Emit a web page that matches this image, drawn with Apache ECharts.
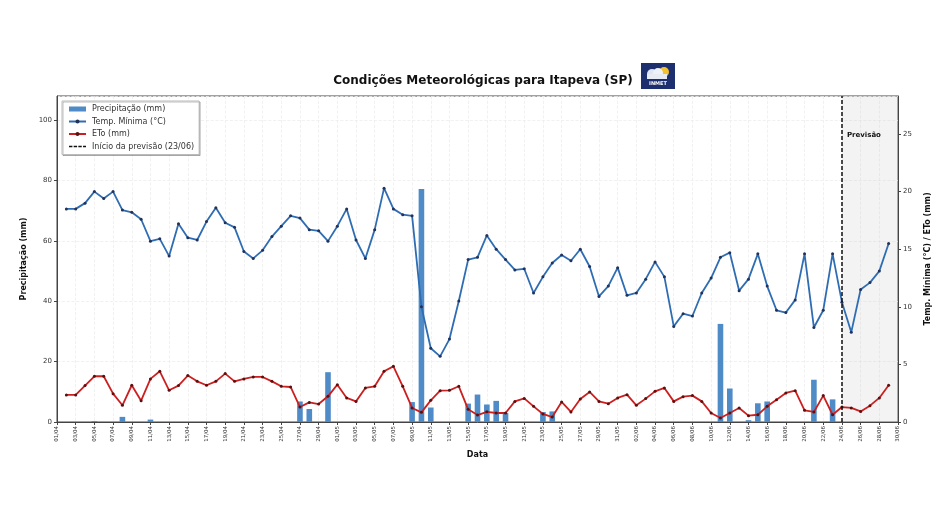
<!DOCTYPE html>
<html>
<head>
<meta charset="utf-8">
<script src="https://cdn.jsdelivr.net/npm/echarts@6/dist/echarts.min.js"></script>
<style>
  html, body { margin: 0; padding: 0; background: #fff; }
  #grafico { width: 940px; height: 530px; }
</style>
</head>
<body>
<div id="grafico"></div>
<script>
// eixo x: 01/04 a 30/06
const eixoDatas = [
  '01/04','02/04','03/04','04/04','05/04','06/04','07/04','08/04','09/04','10/04',
  '11/04','12/04','13/04','14/04','15/04','16/04','17/04','18/04','19/04','20/04',
  '21/04','22/04','23/04','24/04','25/04','26/04','27/04','28/04','29/04','30/04',
  '01/05','02/05','03/05','04/05','05/05','06/05','07/05','08/05','09/05','10/05',
  '11/05','12/05','13/05','14/05','15/05','16/05','17/05','18/05','19/05','20/05',
  '21/05','22/05','23/05','24/05','25/05','26/05','27/05','28/05','29/05','30/05','31/05',
  '01/06','02/06','03/06','04/06','05/06','06/06','07/06','08/06','09/06','10/06',
  '11/06','12/06','13/06','14/06','15/06','16/06','17/06','18/06','19/06','20/06',
  '21/06','22/06','23/06','24/06','25/06','26/06','27/06','28/06','29/06','30/06'
]

// dias com dados (02/04 a 29/06)
const datasSerie = eixoDatas.slice(1, 90)

const temperatura = [
  18.5, 18.5, 19.0, 20.0, 19.4, 20.0, 18.4, 18.2, 17.6, 15.7,
  15.9, 14.4, 17.2, 16.0, 15.8, 17.4, 18.6, 17.3, 16.9, 14.8,
  14.2, 14.9, 16.1, 17.0, 17.9, 17.7, 16.7, 16.6, 15.7, 17.0,
  18.5, 15.8, 14.2, 16.7, 20.3, 18.5, 18.0, 17.9, 10.0, 6.4,
  5.7, 7.2, 10.5, 14.1, 14.3, 16.2, 15.0, 14.1, 13.2, 13.3,
  11.2, 12.6, 13.8, 14.5, 14.0, 15.0, 13.5, 10.9, 11.8, 13.4,
  11.0, 11.2, 12.4, 13.9, 12.6, 8.3, 9.4, 9.2, 11.2, 12.5,
  14.3, 14.7, 11.4, 12.4, 14.6, 11.8, 9.7, 9.5, 10.6, 14.6,
  8.2, 9.7, 14.6, 10.4, 7.8, 11.5, 12.1, 13.1, 15.5
]

const eto = [
  2.35, 2.35, 3.16, 3.97, 3.97, 2.46, 1.45, 3.19, 1.85, 3.74,
  4.4, 2.75, 3.16, 4.03, 3.53, 3.19, 3.53, 4.2, 3.53, 3.74,
  3.91, 3.91, 3.53, 3.1, 3.04, 1.3, 1.7, 1.56, 2.23, 3.24,
  2.09, 1.79, 2.96, 3.1, 4.4, 4.83, 3.1, 1.22, 0.84, 1.88,
  2.72, 2.75, 3.1, 1.1, 0.6, 0.88, 0.78, 0.78, 1.79, 2.05,
  1.36, 0.7, 0.43, 1.74, 0.87, 2.0, 2.61, 1.79, 1.59, 2.09,
  2.37, 1.45, 2.03, 2.66, 2.96, 1.79, 2.2, 2.29, 1.79, 0.78,
  0.35, 0.78, 1.22, 0.55, 0.63, 1.36, 1.94, 2.52, 2.72, 1.01,
  0.87, 2.29, 0.63, 1.3, 1.22, 0.92, 1.42, 2.09, 3.19
]

const precipitacao = [
  0, 0, 0, 0.3, 0, 0, 1.7, 0, 0, 0.8,
  0, 0, 0, 0, 0, 0, 0, 0, 0, 0,
  0, 0, 0, 0, 0, 6.8, 4.3, 0, 16.5, 0,
  0, 0, 0, 0, 0, 0, 0, 6.6, 77.2, 4.8,
  0, 0, 0, 6.1, 9.1, 5.8, 7.0, 3.0, 0, 0,
  0, 3.3, 3.5, 0, 0, 0, 0, 0, 0, 0,
  0, 0, 0, 0, 0, 0, 0, 0, 0, 0,
  32.5, 11.1, 0, 0.6, 6.2, 6.8, 0, 0, 0, 0,
  14.0, 0, 7.5, 0, 0, 0, 0, 0, 0
]

const inicioPrevisao = '24/06'
const fimEixo = '30/06'

const pares = arr => arr.map((v, k) => [datasSerie[k], v])

const chart = echarts.init(document.getElementById('grafico'))

const corTexto = '#333'
const fonte = 'DejaVu Sans'
// ícone tracejado da legenda
const iconeTracejado = 'path://M0,0h3.2v1.4h-3.2z M4.4,0h3.2v1.4h-3.2z M8.8,0h3.2v1.4h-3.2z M13.2,0h2.8v1.4h-2.8z'

chart.setOption({
  backgroundColor: '#fff',
  animation: false,
  textStyle: { fontFamily: fonte },
  title: {
    text: 'Condições Meteorológicas para Itapeva (SP)',
    left: 478,
    top: 70,
    textAlign: 'center',
    textStyle: { fontSize: 12, fontWeight: 'bold', color: '#111', fontFamily: fonte }
  },
  graphic: [{
    type: 'group',
    left: 641,
    top: 63,
    children: [
      { type: 'rect', shape: { x: 0, y: 0, width: 34, height: 26 }, style: { fill: '#1d2f6e' } },
      { type: 'circle', shape: { cx: 23, cy: 9, r: 5 }, style: { fill: '#f2c230' } },
      { type: 'circle', shape: { cx: 11, cy: 11, r: 5 }, style: { fill: '#dfe6f2' } },
      { type: 'circle', shape: { cx: 17, cy: 10, r: 5 }, style: { fill: '#eef2f8' } },
      { type: 'rect', shape: { x: 6, y: 11, width: 20, height: 5 }, style: { fill: '#e6ebf4' } },
      { type: 'text', x: 17, y: 18, style: { text: 'INMET', fill: '#fff', fontSize: 5, fontWeight: 'bold', align: 'center', fontFamily: fonte } }
    ]
  }],
  legend: {
    left: 62,
    top: 101,
    orient: 'vertical',
    itemGap: 4.5,
    itemWidth: 17,
    itemHeight: 5,
    padding: [4, 5, 4, 6],
    backgroundColor: '#fff',
    borderColor: '#bbb',
    borderWidth: 1,
    shadowColor: 'rgba(0,0,0,0.25)',
    shadowOffsetX: 1,
    shadowOffsetY: 1,
    textStyle: { fontSize: 8, color: corTexto, fontFamily: fonte, padding: [0, 0, 0, 1] },
    data: [
      { name: 'Precipitação (mm)', icon: 'rect' },
      { name: 'Temp. Mínima (°C)' },
      { name: 'ETo (mm)' },
      { name: 'Início da previsão (23/06)', icon: iconeTracejado }
    ]
  },
  grid: { left: 57, right: 40, top: 96, bottom: 108, show: true, borderColor: '#444', borderWidth: 1, backgroundColor: 'transparent' },
  xAxis: {
    type: 'category',
    data: eixoDatas,
    boundaryGap: false,
    name: 'Data',
    nameLocation: 'middle',
    nameGap: 29,
    nameTextStyle: { fontSize: 8, fontWeight: 'bold', color: '#111' },
    axisLine: { lineStyle: { color: '#444' } },
    axisTick: { interval: 1, length: 3, lineStyle: { color: '#444' } },
    axisLabel: { interval: 1, rotate: 90, fontSize: 5.5, color: corTexto, margin: 4 },
    splitLine: { show: true, interval: 1, lineStyle: { color: '#ededed', type: 'dashed', width: 0.8 } }
  },
  yAxis: [{
    type: 'value',
    min: 0,
    max: 108,
    interval: 20,
    name: 'Precipitação (mm)',
    nameLocation: 'middle',
    nameGap: 27,
    nameTextStyle: { fontSize: 8, fontWeight: 'bold', color: '#111' },
    axisLine: { show: true, lineStyle: { color: '#444' } },
    axisTick: { show: true, length: 3, lineStyle: { color: '#444' } },
    axisLabel: { fontSize: 7, color: corTexto, margin: 5, showMaxLabel: false },
    splitLine: { lineStyle: { color: '#ededed', type: 'dashed', width: 0.8 } }
  }, {
    type: 'value',
    min: 0,
    max: 28.3,
    interval: 5,
    name: 'Temp. Mínima (°C) / ETo (mm)',
    nameLocation: 'middle',
    nameGap: 26,
    nameRotate: 90,
    nameTextStyle: { fontSize: 8, fontWeight: 'bold', color: '#111' },
    axisLine: { show: true, lineStyle: { color: '#444' } },
    axisTick: { show: true, length: 3, lineStyle: { color: '#444' } },
    axisLabel: { fontSize: 7, color: corTexto, margin: 5, showMaxLabel: false },
    splitLine: { show: false }
  }],
  series: [{
    name: 'Precipitação (mm)',
    type: 'bar',
    yAxisIndex: 0,
    barWidth: 5.6,
    data: pares(precipitacao),
    itemStyle: { color: '#4f8bc7' },
    markArea: {
      silent: true,
      itemStyle: { color: 'rgba(200,200,200,0.22)' },
      label: {
        show: true,
        position: 'insideTopLeft',
        distance: 5,
        offset: [0, 31],
        fontSize: 7,
        fontWeight: 'bold',
        color: '#111',
        fontFamily: fonte
      },
      data: [[{ name: 'Previsão', xAxis: inicioPrevisao }, { xAxis: fimEixo }]]
    },
    z: 2
  }, {
    name: 'Temp. Mínima (°C)',
    type: 'line',
    yAxisIndex: 1,
    data: pares(temperatura),
    symbol: 'circle',
    symbolSize: 3,
    lineStyle: { color: '#2f6db3', width: 1.8 },
    itemStyle: { color: '#22325a' },
    z: 4
  }, {
    name: 'ETo (mm)',
    type: 'line',
    yAxisIndex: 1,
    data: pares(eto),
    symbol: 'circle',
    symbolSize: 3,
    lineStyle: { color: '#cc1f1f', width: 1.8 },
    itemStyle: { color: '#5a1010' },
    z: 4
  }, {
    name: 'Início da previsão (23/06)',
    type: 'line',
    yAxisIndex: 1,
    data: [],
    symbol: 'none',
    lineStyle: { color: '#111', width: 1.5, type: [4, 2] },
    itemStyle: { color: '#111' },
    markLine: {
      silent: true,
      symbol: 'none',
      label: { show: false },
      lineStyle: { color: '#111', width: 1.5, type: [4, 2] },
      data: [{ xAxis: inicioPrevisao }]
    },
    z: 5
  }]
})
</script>
</body>
</html>
